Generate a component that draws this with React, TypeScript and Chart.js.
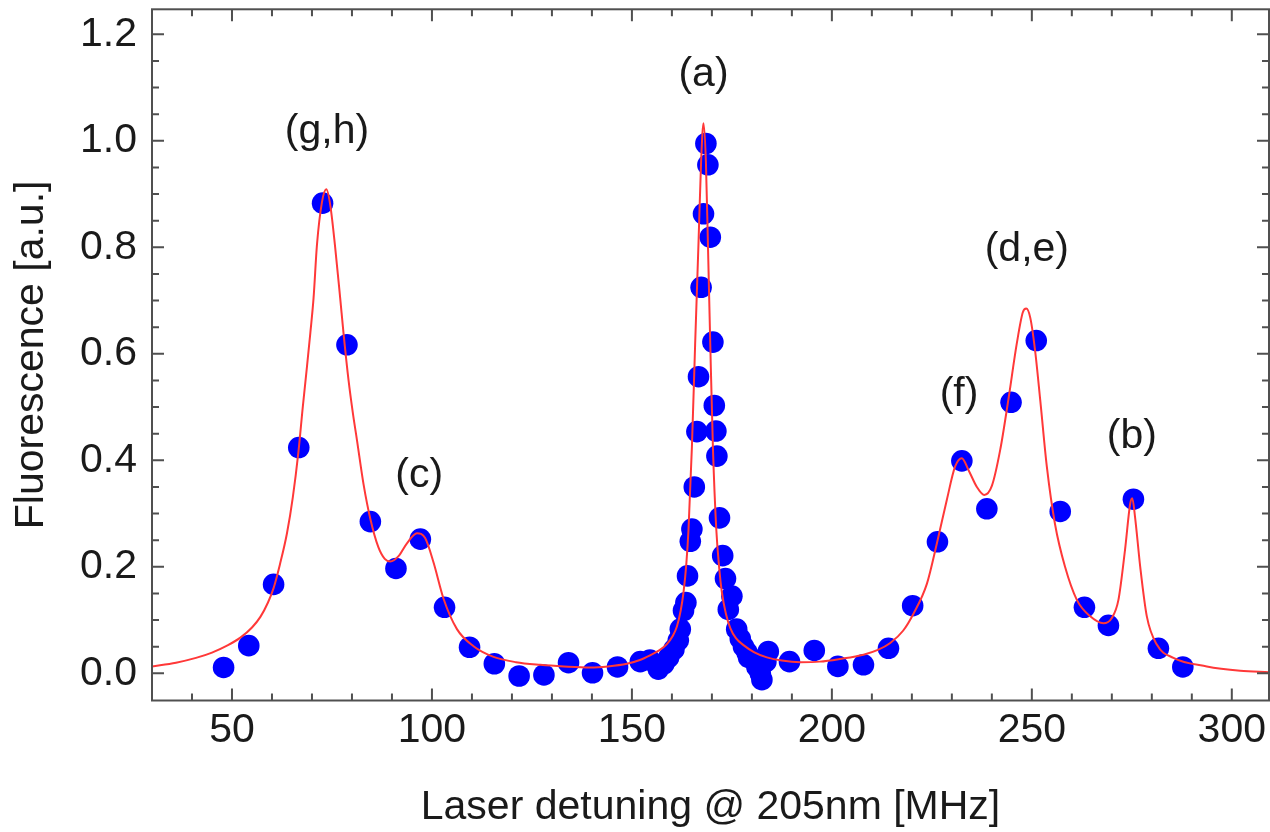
import React, { useEffect, useRef } from "react";
import { Chart, registerables } from "chart.js";

Chart.register(...registerables);

// Measured data points (blue dots)
const detuning = [
  47.9, 54.2, 60.4, 66.7, 72.65, 78.75, 84.6, 91.0, 97.1, 103.15, 109.4, 115.6,
  121.8, 128.0, 134.15, 140.15, 146.4, 152.1, 154.5, 156.6, 158.0, 159.2, 160.5,
  161.6, 162.1, 162.9, 163.5, 163.9, 164.6, 165.0, 165.6, 166.25, 166.65, 167.3,
  167.9, 168.5, 169.0, 169.6, 170.25, 170.6, 171.0, 171.25, 171.9, 172.7, 173.4,
  174.1, 175.0, 176.2, 177.1, 177.9, 178.75, 179.15, 180.4, 181.25, 182.1, 182.5,
  183.5, 184.1, 189.4, 195.6, 201.5, 207.9, 214.15, 220.2, 226.4, 232.5, 238.75,
  244.8, 251.1, 257.1, 263.15, 269.15, 275.4, 281.65, 287.75,
];
const fluorescence = [
  0.011, 0.052, 0.167, 0.424, 0.883, 0.617, 0.285, 0.197, 0.252, 0.124, 0.049, 0.018,
  -0.005, -0.003, 0.02, 0.001, 0.012, 0.022, 0.025, 0.008, 0.018, 0.03, 0.045,
  0.062, 0.083, 0.118, 0.133, 0.183, 0.248, 0.271, 0.35, 0.454, 0.557, 0.725,
  0.863, 0.995, 0.955, 0.819, 0.622, 0.503, 0.455, 0.408, 0.292, 0.221, 0.178,
  0.12, 0.145, 0.083, 0.065, 0.05, 0.04, 0.03, 0.026, 0.012, 0.0, -0.012,
  0.022, 0.041, 0.022, 0.043, 0.013, 0.016, 0.047, 0.127, 0.247, 0.399, 0.309,
  0.509, 0.625, 0.304, 0.124, 0.09, 0.327, 0.047, 0.012,
];

// Fit curve (red line)
const fitDetuning = [
  30, 36, 41, 45, 49, 52.1, 55, 57.1, 59, 60.4, 62, 63.75, 65.2, 66.6, 67.7, 68.75, 69.6,
  70.4, 71.25, 72.5, 73.6, 74.6, 75.8, 77.05, 77.9, 79.15, 80.2, 81.25, 82.9, 84.6, 86.6,
  88.2, 89.6, 91.65, 93.75, 96.25, 98.3, 100.4, 102.9, 106.25, 110.4, 115.4, 121, 127.1,
  133, 139.6, 144, 148.75, 152, 154.6, 156.8, 158.75, 160.2, 161.25, 162.2, 162.9, 163.6,
  164.15, 165, 165.8, 166.65, 167.3, 167.9, 168.5, 169, 169.6, 170.25, 171.1, 171.8,
  172.5, 173.5, 174.6, 176, 177.9, 180.5, 183.75, 187.5, 192.1, 197, 202, 207.9, 211.5,
  214.6, 217.8, 220.4, 223.75, 226.25, 228.75, 230.8, 232.5, 234.15, 236.25, 238.1, 240,
  242.1, 244.15, 246.25, 247.75, 248.6, 249.6, 250.8, 252.1, 253.75, 255.8, 258.3, 261.25,
  264.6, 267.9, 270, 271.65, 273.3, 274.6, 275.1, 275.8, 277.1, 278.75, 281.25, 285.4,
  293.75, 302.1, 309.3,
];
const fitFluorescence = [
  0.013, 0.02, 0.029, 0.039, 0.053, 0.067, 0.086, 0.106, 0.133, 0.16, 0.205, 0.263, 0.33,
  0.415, 0.5, 0.576, 0.64, 0.705, 0.805, 0.885, 0.909, 0.878, 0.8, 0.705, 0.638, 0.55,
  0.49, 0.438, 0.355, 0.29, 0.237, 0.215, 0.21, 0.22, 0.244, 0.263, 0.254, 0.208, 0.14,
  0.083, 0.051, 0.031, 0.021, 0.016, 0.013, 0.011, 0.013, 0.018, 0.025, 0.034, 0.043,
  0.055, 0.07, 0.088, 0.118, 0.152, 0.205, 0.27, 0.425, 0.616, 0.808, 0.961, 1.033, 0.961,
  0.808, 0.616, 0.425, 0.27, 0.2, 0.152, 0.112, 0.085, 0.066, 0.053, 0.04, 0.03, 0.024,
  0.021, 0.022, 0.027, 0.035, 0.044, 0.057, 0.08, 0.112, 0.168, 0.244, 0.326, 0.388,
  0.404, 0.382, 0.35, 0.335, 0.352, 0.42, 0.515, 0.62, 0.678, 0.685, 0.668, 0.607, 0.513,
  0.388, 0.28, 0.2, 0.138, 0.107, 0.094, 0.104, 0.138, 0.232, 0.319, 0.329, 0.294, 0.2,
  0.107, 0.054, 0.029, 0.013, 0.005, 0.002,
];

const xTickValues = [50, 100, 150, 200, 250, 300];
const xTickLabels = ["50", "100", "150", "200", "250", "300"];
const yTickValues = [0, 0.2, 0.4, 0.6, 0.8, 1.0, 1.2];
const yTickLabels = ["0.0", "0.2", "0.4", "0.6", "0.8", "1.0", "1.2"];

const peakLabels = ["(g,h)", "(c)", "(a)", "(f)", "(d,e)", "(b)"];
const peakLabelX = [73.75, 96.8, 167.9, 231.8, 248.75, 275.0];
const peakLabelY = [1.017, 0.371, 1.125, 0.523, 0.795, 0.445];

const X_MIN = 30;
const X_MAX = 309.3;
const Y_MIN = -0.051;
const Y_MAX = 1.247;

const FONT = "'Liberation Sans', Arial, sans-serif";
const TEXT_COLOR = "#1a1a1a";
const FRAME_COLOR = "#505050";

const frameAndLabels = {
  id: "frameAndLabels",
  afterDraw(chart: any) {
    const { ctx, chartArea } = chart;
    const xs = chart.scales.x;
    const ys = chart.scales.y;
    const { left, right, top, bottom } = chartArea;
    ctx.save();
    ctx.strokeStyle = FRAME_COLOR;
    ctx.lineWidth = 2;
    ctx.beginPath();
    for (let v = Math.ceil(X_MIN / 10) * 10; v <= X_MAX; v += 10) {
      const px = xs.getPixelForValue(v);
      if (px - left < 2 || right - px < 2) continue;
      const len = v % 50 === 0 ? 12 : 7;
      ctx.moveTo(px, bottom);
      ctx.lineTo(px, bottom - len);
      ctx.moveTo(px, top);
      ctx.lineTo(px, top + len);
    }
    for (let i = Math.ceil(Y_MIN / 0.05); i * 0.05 <= Y_MAX; i++) {
      const v = i * 0.05;
      const py = ys.getPixelForValue(v);
      if (bottom - py < 2 || py - top < 2) continue;
      const len = i % 4 === 0 ? 12 : 7;
      ctx.moveTo(left, py);
      ctx.lineTo(left + len, py);
      ctx.moveTo(right, py);
      ctx.lineTo(right - len, py);
    }
    ctx.stroke();
    ctx.strokeRect(left, top, right - left, bottom - top);

    ctx.fillStyle = TEXT_COLOR;
    ctx.font = `41px ${FONT}`;
    ctx.textAlign = "center";
    ctx.textBaseline = "middle";
    peakLabels.forEach((t, i) => {
      ctx.fillText(t, xs.getPixelForValue(peakLabelX[i]), ys.getPixelForValue(peakLabelY[i]));
    });
    ctx.restore();
  },
};

export default function App() {
  const canvasRef = useRef<HTMLCanvasElement | null>(null);

  useEffect(() => {
    if (!canvasRef.current) return;
    const chart = new Chart(canvasRef.current, {
      type: "scatter",
      data: {
        datasets: [
          {
            type: "line",
            label: "fit",
            data: fitDetuning.map((x, i) => ({ x, y: fitFluorescence[i] })),
            borderColor: "#ff3838",
            borderWidth: 2,
            pointRadius: 0,
            fill: false,
            cubicInterpolationMode: "monotone",
            order: 0,
          } as any,
          {
            type: "scatter",
            label: "data",
            data: detuning.map((x, i) => ({ x, y: fluorescence[i] })),
            backgroundColor: "#0000ff",
            borderWidth: 0,
            pointRadius: 10.8,
            order: 1,
          } as any,
        ],
      },
      plugins: [frameAndLabels],
      options: {
        responsive: false,
        animation: false,
        layout: { padding: { left: 0, right: 1, top: 9.3, bottom: 0 }, autoPadding: false },
        plugins: {
          legend: { display: false },
          tooltip: { enabled: false },
        },
        scales: {
          x: {
            type: "linear",
            min: X_MIN,
            max: X_MAX,
            grid: { display: false, drawTicks: false },
            border: { display: false },
            afterBuildTicks: (scale: any) => {
              scale.ticks = xTickValues.map((v) => ({ value: v }));
            },
            afterFit: (scale: any) => {
              scale.height = 131.5;
              scale.paddingLeft = 0;
              scale.paddingRight = 0;
              scale.paddingTop = 0;
              scale.paddingBottom = 0;
            },
            ticks: {
              autoSkip: false,
              maxRotation: 0,
              minRotation: 0,
              padding: 6,
              color: TEXT_COLOR,
              font: { family: FONT, size: 41 },
              callback: (_v: any, i: number) => xTickLabels[i],
            },
            title: {
              display: true,
              text: "Laser detuning @ 205nm [MHz]",
              color: TEXT_COLOR,
              font: { family: FONT, size: 41 },
              padding: { top: 0, bottom: 0 },
            },
          },
          y: {
            type: "linear",
            min: Y_MIN,
            max: Y_MAX,
            grid: { display: false, drawTicks: false },
            border: { display: false },
            afterBuildTicks: (scale: any) => {
              scale.ticks = yTickValues.map((v) => ({ value: v }));
            },
            afterFit: (scale: any) => {
              scale.width = 152;
              scale.paddingLeft = 0;
              scale.paddingRight = 0;
              scale.paddingTop = 0;
              scale.paddingBottom = 0;
            },
            ticks: {
              autoSkip: false,
              padding: 15,
              color: TEXT_COLOR,
              font: { family: FONT, size: 41 },
              callback: (_v: any, i: number) => yTickLabels[i],
            },
            title: {
              display: true,
              text: "Fluorescence [a.u.]",
              color: TEXT_COLOR,
              font: { family: FONT, size: 41 },
              padding: { top: 7, bottom: 0 },
            },
          },
        },
      },
    });
    return () => chart.destroy();
  }, []);

  return (
    <div style={{ position: "absolute", left: 0, top: 0, width: 1270, height: 832, background: "#fff" }}>
      <canvas ref={canvasRef} width={1270} height={832} style={{ display: "block" }} />
    </div>
  );
}
